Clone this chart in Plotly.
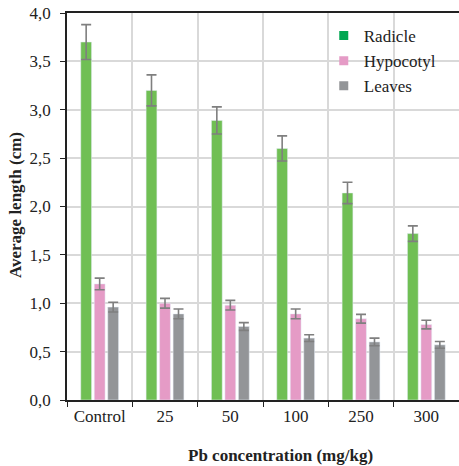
import plotly.graph_objects as go

categories = ["Control", "25", "50", "100", "250", "300"]
radicle = [3.70, 3.20, 2.89, 2.60, 2.14, 1.72]
radicle_err = [0.18, 0.16, 0.14, 0.13, 0.11, 0.08]
hypocotyl = [1.20, 1.00, 0.98, 0.89, 0.84, 0.78]
hypocotyl_err = [0.06, 0.05, 0.05, 0.05, 0.045, 0.045]
leaves = [0.96, 0.89, 0.76, 0.64, 0.60, 0.57]
leaves_err = [0.05, 0.05, 0.04, 0.035, 0.04, 0.035]
y_ticks = [0, 0.5, 1.0, 1.5, 2.0, 2.5, 3.0, 3.5, 4.0]

series = [
    ("Radicle", radicle, radicle_err, "#70BF54", "#00A651"),
    ("Hypocotyl", hypocotyl, hypocotyl_err, "#E59BC6", "#E59BC6"),
    ("Leaves", leaves, leaves_err, "#939598", "#939598"),
]

FONT = "Liberation Serif"
fig = go.Figure()
for name, vals, errs, col, lcol in series:
    fig.add_trace(go.Bar(
        x=categories, y=vals, name=name, marker_color=col, showlegend=False,
        error_y=dict(type="data", array=errs, visible=True, color="#7F7F7F",
                     thickness=1.6, width=5),
        hoverinfo="skip",
    ))
for name, vals, errs, col, lcol in series:
    fig.add_trace(go.Scatter(
        x=[None], y=[None], mode="markers", name=name,
        marker=dict(symbol="square", size=9, color=lcol),
    ))

fig.update_layout(
    width=459, height=466,
    margin=dict(l=67, r=0, t=13, b=66),
    paper_bgcolor="white", plot_bgcolor="white",
    separators=",.",
    barmode="group", bargap=0.38, bargroupgap=0.2,
    hovermode=False,
    font=dict(family=FONT, size=17, color="#222222"),
    legend=dict(x=0.655, y=0.987, xanchor="left", yanchor="top",
                bgcolor="rgba(0,0,0,0)", font=dict(size=17, color="#222222"),
                tracegroupgap=0, itemwidth=30),
    xaxis=dict(
        type="category", tickson="boundaries", ticks="outside", ticklen=5,
        tickcolor="#222222", showline=True, linecolor="#222222", linewidth=1.5,
        mirror=True, showgrid=True, gridcolor="#D9D9D9", gridwidth=2,
        tickfont=dict(size=17), automargin=False,
    ),
    yaxis=dict(
        range=[0, 4.0], tickvals=y_ticks, tickformat=".1f", ticks="outside",
        ticklen=5, tickcolor="#222222", showline=True, linecolor="#222222",
        linewidth=1.5, showgrid=True, gridcolor="#D9D9D9", gridwidth=2,
        zeroline=False, tickfont=dict(size=17), automargin=False,
        ticklabelstandoff=6,
    ),
    annotations=[
        dict(text="<b>Pb concentration (mg/kg)</b>", xref="paper", yref="paper",
             x=(280 - 67) / 392, y=(400 - 455) / 387, xanchor="center", yanchor="middle",
             showarrow=False, font=dict(size=17)),
        dict(text="<b>Average length (cm)</b>", xref="paper", yref="paper",
             x=(15 - 67) / 392, y=(400 - 205) / 387, xanchor="center", yanchor="middle",
             textangle=-90, showarrow=False, font=dict(size=17)),
    ],
)

fig.write_html("out.html", config={"displayModeBar": False},
               post_script="document.body.style.margin='0';")
